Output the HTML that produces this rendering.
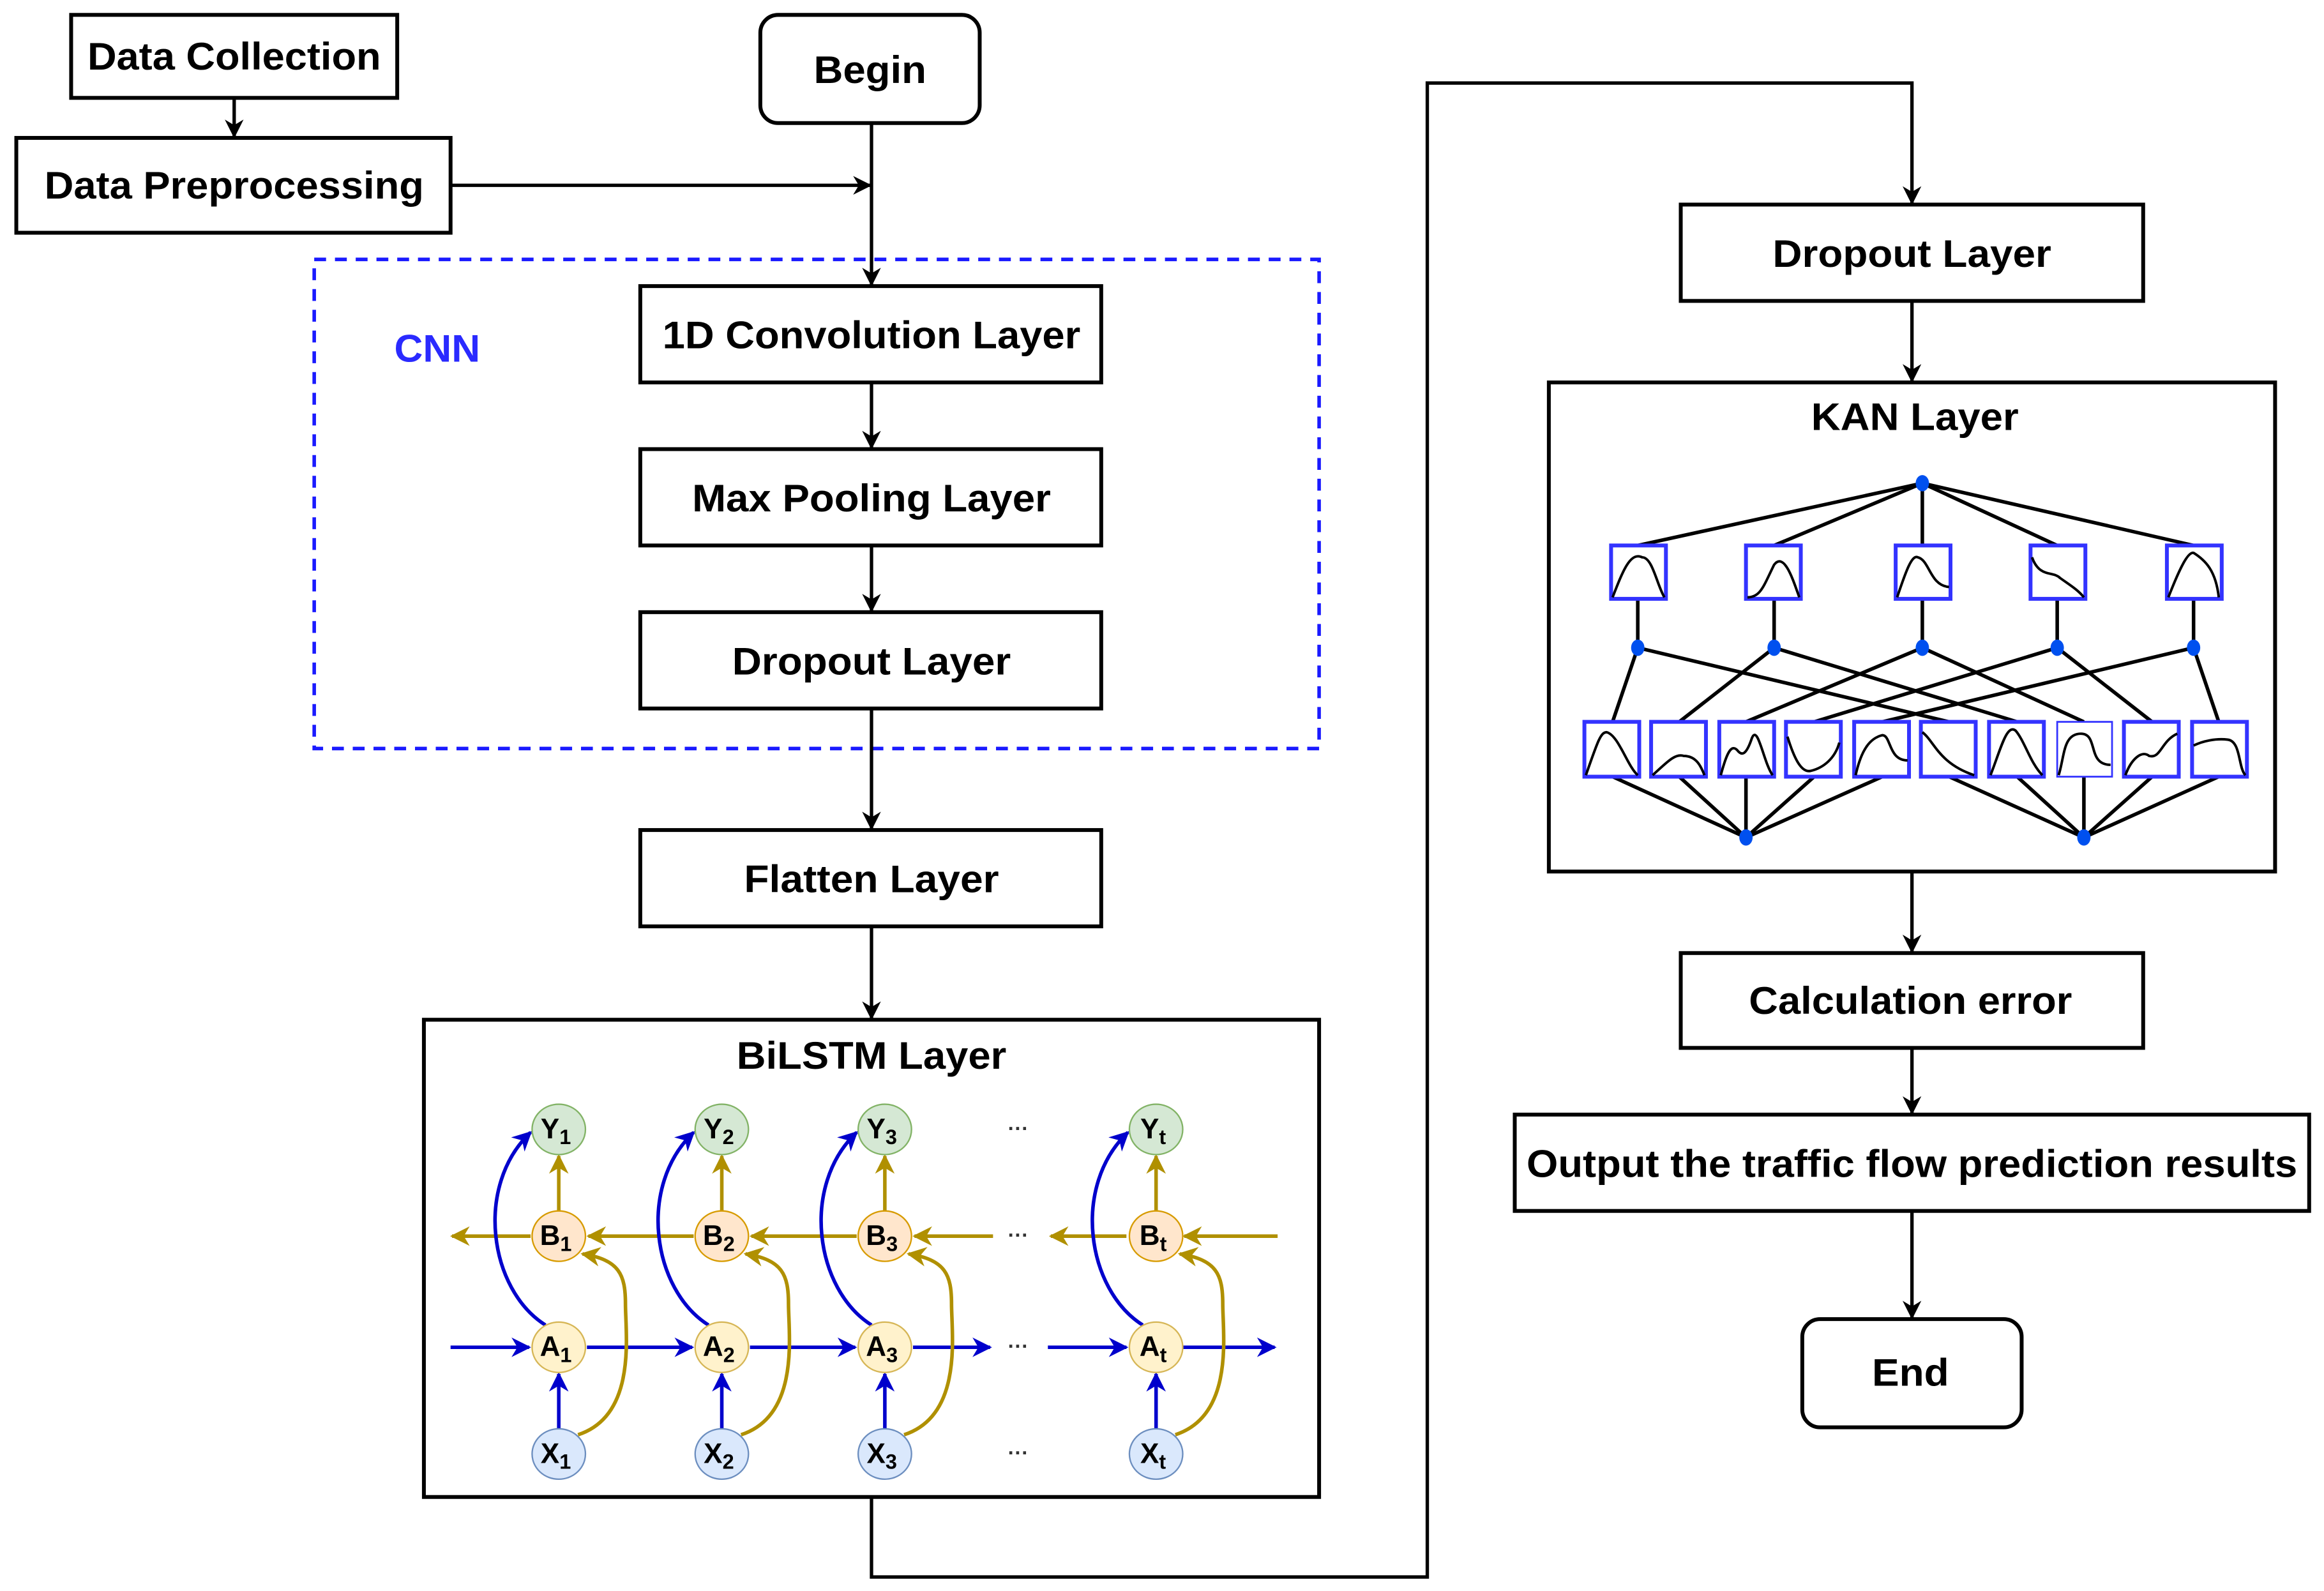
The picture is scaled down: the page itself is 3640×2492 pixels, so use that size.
<!DOCTYPE html>
<html><head><meta charset="utf-8"><style>
html,body{margin:0;padding:0;background:#fff;}
svg{display:block;}
text{font-family:"Liberation Sans",Arial,sans-serif;font-weight:bold;}
</style></head><body>
<svg width="3640" height="2492" viewBox="0 0 1568 1073.4" xmlns="http://www.w3.org/2000/svg">
<defs>
<marker id="ak" viewBox="0 0 10 10" refX="9" refY="5" markerWidth="5.5" markerHeight="5.5" orient="auto" markerUnits="strokeWidth"><path d="M0,0 L10,5 L0,10 L3,5 z" fill="#000"/></marker>
<marker id="ab" viewBox="0 0 10 10" refX="9" refY="5" markerWidth="5.5" markerHeight="5.5" orient="auto" markerUnits="strokeWidth"><path d="M0,0 L10,5 L0,10 L3,5 z" fill="#0000cc"/></marker>
<marker id="ag" viewBox="0 0 10 10" refX="9" refY="5" markerWidth="5.5" markerHeight="5.5" orient="auto" markerUnits="strokeWidth"><path d="M0,0 L10,5 L0,10 L3,5 z" fill="#b09000"/></marker>
</defs>
<rect width="1568" height="1073.4" fill="#fff"/>

<g fill="none" stroke="#000" stroke-width="2.6">
<rect x="48" y="10" width="220" height="56"/>
<rect x="11" y="93" width="293" height="64"/>
<rect x="513" y="10" width="148" height="73" rx="12"/>
<rect x="432" y="193" width="311" height="65"/>
<rect x="432" y="303" width="311" height="65"/>
<rect x="432" y="413" width="311" height="65"/>
<rect x="432" y="560" width="311" height="65"/>
<rect x="286" y="688" width="604" height="322"/>
<rect x="1134" y="138" width="312" height="65"/>
<rect x="1045" y="258" width="490" height="330"/>
<rect x="1134" y="643" width="312" height="64"/>
<rect x="1022" y="752" width="536" height="65"/>
<rect x="1216" y="890" width="148" height="73" rx="12"/>
</g>
<rect x="212" y="175" width="678" height="330" fill="none" stroke="#1a1aff" stroke-width="2.4" stroke-dasharray="8,6"/>

<g fill="none" stroke="#000" stroke-width="2.3" >
<line x1="158" y1="66" x2="158" y2="92" marker-end="url(#ak)"/>
<line x1="304" y1="125" x2="587" y2="125" marker-end="url(#ak)"/>
<line x1="588" y1="83" x2="588" y2="192" marker-end="url(#ak)"/>
<line x1="588" y1="258" x2="588" y2="302" marker-end="url(#ak)"/>
<line x1="588" y1="368" x2="588" y2="412" marker-end="url(#ak)"/>
<line x1="588" y1="478" x2="588" y2="559" marker-end="url(#ak)"/>
<line x1="588" y1="625" x2="588" y2="687" marker-end="url(#ak)"/>
<polyline points="588,1010 588,1064 963,1064 963,56 1290,56 1290,137" marker-end="url(#ak)"/>
<line x1="1290" y1="203" x2="1290" y2="257" marker-end="url(#ak)"/>
<line x1="1290" y1="588" x2="1290" y2="642" marker-end="url(#ak)"/>
<line x1="1290" y1="707" x2="1290" y2="751" marker-end="url(#ak)"/>
<line x1="1290" y1="817" x2="1290" y2="889" marker-end="url(#ak)"/>
</g>

<g font-size="26" text-anchor="middle" fill="#000" lengthAdjust="spacingAndGlyphs">
<text x="158" y="47" textLength="198" lengthAdjust="spacingAndGlyphs">Data Collection</text>
<text x="158" y="134" textLength="256" lengthAdjust="spacingAndGlyphs">Data Preprocessing</text>
<text x="587" y="56" textLength="76" lengthAdjust="spacingAndGlyphs">Begin</text>
<text x="588" y="235" textLength="282" lengthAdjust="spacingAndGlyphs">1D Convolution Layer</text>
<text x="588" y="345" textLength="242" lengthAdjust="spacingAndGlyphs">Max Pooling Layer</text>
<text x="588" y="455" textLength="188" lengthAdjust="spacingAndGlyphs">Dropout Layer</text>
<text x="588" y="602" textLength="172" lengthAdjust="spacingAndGlyphs">Flatten Layer</text>
<text x="588" y="721" textLength="182" lengthAdjust="spacingAndGlyphs">BiLSTM Layer</text>
<text x="1290" y="180" textLength="188" lengthAdjust="spacingAndGlyphs">Dropout Layer</text>
<text x="1292" y="290" textLength="140" lengthAdjust="spacingAndGlyphs">KAN Layer</text>
<text x="1289" y="684" textLength="218" lengthAdjust="spacingAndGlyphs">Calculation error</text>
<text x="1290" y="794" textLength="520" lengthAdjust="spacingAndGlyphs">Output the traffic flow prediction results</text>
<text x="1289" y="935" textLength="52" lengthAdjust="spacingAndGlyphs">End</text>
</g>
<text x="295" y="244" font-size="26" text-anchor="middle" fill="#2a2aff" textLength="58" lengthAdjust="spacingAndGlyphs">CNN</text>

<!-- BiLSTM internals -->
<g fill="none" stroke-width="2.4">
<g stroke="#0000cc">
<line x1="304" y1="909" x2="357" y2="909" marker-end="url(#ab)"/>
<line x1="396" y1="909" x2="467" y2="909" marker-end="url(#ab)"/>
<line x1="506" y1="909" x2="577" y2="909" marker-end="url(#ab)"/>
<line x1="616" y1="909" x2="668" y2="909" marker-end="url(#ab)"/>
<line x1="707" y1="909" x2="760" y2="909" marker-end="url(#ab)"/>
<line x1="798" y1="909" x2="860" y2="909" marker-end="url(#ab)"/>
</g>
<g stroke="#b09000">
<line x1="358" y1="834" x2="305" y2="834" marker-end="url(#ag)"/>
<line x1="468" y1="834" x2="397" y2="834" marker-end="url(#ag)"/>
<line x1="578" y1="834" x2="507" y2="834" marker-end="url(#ag)"/>
<line x1="670" y1="834" x2="617" y2="834" marker-end="url(#ag)"/>
<line x1="760" y1="834" x2="709" y2="834" marker-end="url(#ag)"/>
<line x1="862" y1="834" x2="799" y2="834" marker-end="url(#ag)"/>
</g>
</g>
<g fill="none" stroke-width="2.4">
<g stroke="#0000cc">
<path d="M368,894 C330,870 320,800 358,764" marker-end="url(#ab)"/>
<path d="M478,894 C440,870 430,800 468,764" marker-end="url(#ab)"/>
<path d="M588,894 C550,870 540,800 578,764" marker-end="url(#ab)"/>
<path d="M771,894 C733,870 723,800 761,764" marker-end="url(#ab)"/>
<line x1="377" y1="964" x2="377" y2="927" marker-end="url(#ab)"/>
<line x1="487" y1="964" x2="487" y2="927" marker-end="url(#ab)"/>
<line x1="597" y1="964" x2="597" y2="927" marker-end="url(#ab)"/>
<line x1="780" y1="964" x2="780" y2="927" marker-end="url(#ab)"/>
</g>
<g stroke="#b09000">
<path d="M390,968 C430,955 422,900 422,880 C422,860 418,850 393,846" marker-end="url(#ag)"/>
<path d="M500,968 C540,955 532,900 532,880 C532,860 528,850 503,846" marker-end="url(#ag)"/>
<path d="M610,968 C650,955 642,900 642,880 C642,860 638,850 613,846" marker-end="url(#ag)"/>
<path d="M793,968 C833,955 825,900 825,880 C825,860 821,850 796,846" marker-end="url(#ag)"/>
<line x1="377" y1="817" x2="377" y2="780" marker-end="url(#ag)"/>
<line x1="487" y1="817" x2="487" y2="780" marker-end="url(#ag)"/>
<line x1="597" y1="817" x2="597" y2="780" marker-end="url(#ag)"/>
<line x1="780" y1="817" x2="780" y2="780" marker-end="url(#ag)"/>
</g>
</g>
<g stroke-width="1">
<g fill="#d5e8d4" stroke="#82b366">
<ellipse cx="377" cy="762" rx="18" ry="17"/><ellipse cx="487" cy="762" rx="18" ry="17"/><ellipse cx="597" cy="762" rx="18" ry="17"/><ellipse cx="780" cy="762" rx="18" ry="17"/>
</g>
<g fill="#ffe6cc" stroke="#d79b00">
<ellipse cx="377" cy="834" rx="18" ry="17"/><ellipse cx="487" cy="834" rx="18" ry="17"/><ellipse cx="597" cy="834" rx="18" ry="17"/><ellipse cx="780" cy="834" rx="18" ry="17"/>
</g>
<g fill="#fff2cc" stroke="#d6b656">
<ellipse cx="377" cy="909" rx="18" ry="17"/><ellipse cx="487" cy="909" rx="18" ry="17"/><ellipse cx="597" cy="909" rx="18" ry="17"/><ellipse cx="780" cy="909" rx="18" ry="17"/>
</g>
<g fill="#dae8fc" stroke="#6c8ebf">
<ellipse cx="377" cy="981" rx="18" ry="17"/><ellipse cx="487" cy="981" rx="18" ry="17"/><ellipse cx="597" cy="981" rx="18" ry="17"/><ellipse cx="780" cy="981" rx="18" ry="17"/>
</g>
</g>
<g font-size="19" fill="#000" text-anchor="middle">
<text x="375" y="768">Y<tspan font-size="14" dy="4">1</tspan></text>
<text x="485" y="768">Y<tspan font-size="14" dy="4">2</tspan></text>
<text x="595" y="768">Y<tspan font-size="14" dy="4">3</tspan></text>
<text x="778" y="768">Y<tspan font-size="14" dy="4">t</tspan></text>
<text x="375" y="840">B<tspan font-size="14" dy="4">1</tspan></text>
<text x="485" y="840">B<tspan font-size="14" dy="4">2</tspan></text>
<text x="595" y="840">B<tspan font-size="14" dy="4">3</tspan></text>
<text x="778" y="840">B<tspan font-size="14" dy="4">t</tspan></text>
<text x="375" y="915">A<tspan font-size="14" dy="4">1</tspan></text>
<text x="485" y="915">A<tspan font-size="14" dy="4">2</tspan></text>
<text x="595" y="915">A<tspan font-size="14" dy="4">3</tspan></text>
<text x="778" y="915">A<tspan font-size="14" dy="4">t</tspan></text>
<text x="375" y="987">X<tspan font-size="14" dy="4">1</tspan></text>
<text x="485" y="987">X<tspan font-size="14" dy="4">2</tspan></text>
<text x="595" y="987">X<tspan font-size="14" dy="4">3</tspan></text>
<text x="778" y="987">X<tspan font-size="14" dy="4">t</tspan></text>
</g>
<g font-size="14" fill="#333" text-anchor="middle" style="font-weight:normal">
<text x="687" y="766">···</text><text x="687" y="838">···</text><text x="687" y="913">···</text><text x="687" y="985">···</text>
</g>

<!-- KAN internals -->
<g stroke="#000" stroke-width="2.4" fill="none">
<line x1="1297" y1="326" x2="1105" y2="368"/>
<line x1="1297" y1="326" x2="1197" y2="368"/>
<line x1="1297" y1="326" x2="1297" y2="368"/>
<line x1="1297" y1="326" x2="1388" y2="368"/>
<line x1="1297" y1="326" x2="1480" y2="368"/>
<line x1="1105" y1="404" x2="1105" y2="437"/><line x1="1197" y1="404" x2="1197" y2="437"/><line x1="1297" y1="404" x2="1297" y2="437"/><line x1="1388" y1="404" x2="1388" y2="437"/><line x1="1480" y1="404" x2="1480" y2="437"/>
<line x1="1105" y1="437" x2="1088" y2="487"/><line x1="1105" y1="437" x2="1315" y2="487"/>
<line x1="1197" y1="437" x2="1133" y2="487"/><line x1="1197" y1="437" x2="1361" y2="487"/>
<line x1="1297" y1="437" x2="1178" y2="487"/><line x1="1297" y1="437" x2="1406" y2="487"/>
<line x1="1388" y1="437" x2="1224" y2="487"/><line x1="1388" y1="437" x2="1452" y2="487"/>
<line x1="1480" y1="437" x2="1270" y2="487"/><line x1="1480" y1="437" x2="1497" y2="487"/>
<line x1="1088" y1="524" x2="1178" y2="565"/><line x1="1133" y1="524" x2="1178" y2="565"/><line x1="1178" y1="524" x2="1178" y2="565"/><line x1="1224" y1="524" x2="1178" y2="565"/><line x1="1270" y1="524" x2="1178" y2="565"/>
<line x1="1315" y1="524" x2="1406" y2="565"/><line x1="1361" y1="524" x2="1406" y2="565"/><line x1="1406" y1="524" x2="1406" y2="565"/><line x1="1452" y1="524" x2="1406" y2="565"/><line x1="1497" y1="524" x2="1406" y2="565"/>
</g>
<g fill="#fff" stroke="#3333ff" stroke-width="2.6">
<rect x="1087" y="368" width="37" height="36"/><rect x="1178" y="368" width="37" height="36"/><rect x="1279" y="368" width="37" height="36"/><rect x="1370" y="368" width="37" height="36"/><rect x="1462" y="368" width="37" height="36"/>
<rect x="1069" y="487" width="37" height="37"/><rect x="1114" y="487" width="37" height="37"/><rect x="1160" y="487" width="37" height="37"/><rect x="1205" y="487" width="37" height="37"/><rect x="1251" y="487" width="37" height="37"/><rect x="1296" y="487" width="37" height="37"/><rect x="1342" y="487" width="37" height="37"/><rect x="1388" y="487" width="37" height="37" stroke-width="1.2"/><rect x="1433" y="487" width="37" height="37"/><rect x="1479" y="487" width="37" height="37"/>
</g>
<g fill="none" stroke="#000" stroke-width="1.7">
<path d="M1088,403 C1095,385 1100,372 1108,376 C1115,376 1118,395 1123,403"/>
<path d="M1179,403 C1188,403 1190,395 1197,381 C1204,372 1210,392 1214,403"/>
<path d="M1280,403 C1286,385 1290,374 1294,376 C1302,378 1302,395 1315,396"/>
<path d="M1371,376 C1376,390 1385,385 1390,390 C1397,395 1402,398 1406,403"/>
<path d="M1463,403 C1470,385 1476,372 1480,373 C1488,378 1495,385 1497,403"/>
<path d="M1070,523 C1078,500 1080,494 1084,494 C1092,496 1098,517 1105,523"/>
<path d="M1115,523 C1124,515 1130,508 1136,510 C1145,510 1148,518 1150,523"/>
<path d="M1161,523 C1165,508 1168,502 1172,506 C1175,510 1178,510 1182,498 C1186,488 1190,515 1196,523"/>
<path d="M1206,497 C1210,510 1215,522 1222,520 C1230,518 1238,512 1241,501"/>
<path d="M1252,523 C1256,505 1262,498 1270,496 C1276,496 1274,513 1287,513"/>
<path d="M1297,494 C1305,500 1308,515 1332,523"/>
<path d="M1343,523 C1350,505 1354,488 1360,493 C1366,500 1370,515 1378,523"/>
<path d="M1389,523 C1393,510 1392,495 1404,495 C1416,495 1408,516 1424,516"/>
<path d="M1434,523 C1438,512 1445,506 1450,510 C1458,512 1458,500 1469,495"/>
<path d="M1480,503 C1486,500 1495,498 1503,499 C1512,500 1510,518 1515,523"/>
</g>
<g fill="#0050ef">
<ellipse cx="1297" cy="326" rx="4.5" ry="5.5"/>
<ellipse cx="1105" cy="437" rx="4.5" ry="5.5"/><ellipse cx="1197" cy="437" rx="4.5" ry="5.5"/><ellipse cx="1297" cy="437" rx="4.5" ry="5.5"/><ellipse cx="1388" cy="437" rx="4.5" ry="5.5"/><ellipse cx="1480" cy="437" rx="4.5" ry="5.5"/>
<ellipse cx="1178" cy="565" rx="4.5" ry="5.5"/><ellipse cx="1406" cy="565" rx="4.5" ry="5.5"/>
</g>
</svg>
</body></html>
